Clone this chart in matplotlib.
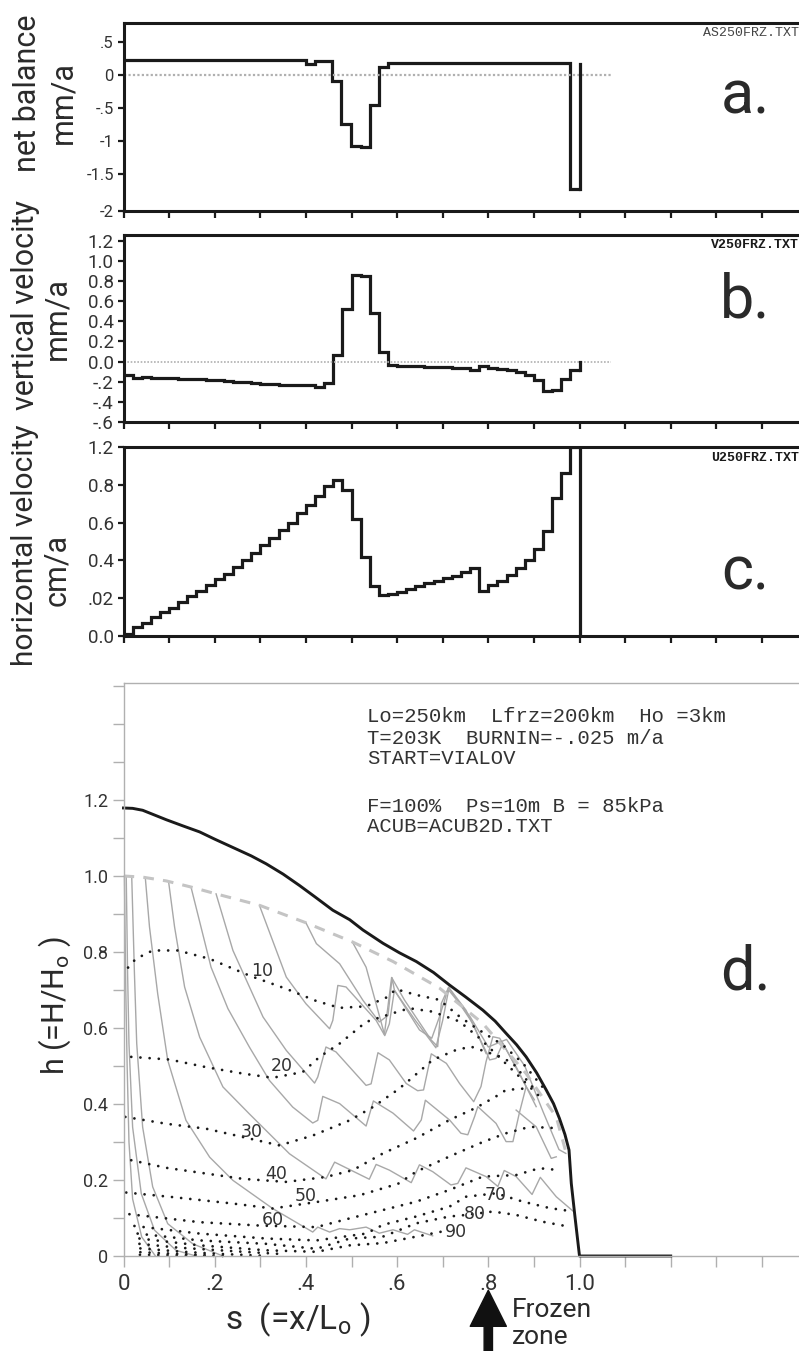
import numpy as np
import matplotlib as mpl
mpl.use('Agg')
import matplotlib.pyplot as plt

W, H = 799, 1351
plt.rcParams['font.family'] = ['Roboto', 'DejaVu Sans']
plt.rcParams['mathtext.default'] = 'regular'

# panel a: net balance, bins of .02
bal_edges = [0, .40, .42, .458, .478, .498, .52, .54, .56, .58, .98, 1.0]
bal_vals = [.22, .17, .21, -.09, -.74, -1.08, -1.09, -.46, .12, .18, -1.73]
bal_end = .17
bal_ticks = [.5, 0, -.5, -1, -1.5, -2.06]
bal_labels = ['.5', '0', '-.5', '-1', '-1.5', '-2']

# panel b: vertical velocity
vert_vals = [-.13, -.16, -.155, -.16, -.16, -.165, -.17, -.17, -.175, -.18,
             -.185, -.19, -.20, -.205, -.215, -.22, -.225, -.235, -.235, -.235,
             -.235, -.255, -.21, .07, .52, .86, .85, .48, .10, -.03,
             -.04, -.04, -.045, -.05, -.05, -.055, -.06, -.065, -.085, -.045,
             -.06, -.07, -.085, -.10, -.13, -.18, -.29, -.285, -.17, -.08]
vert_end = 0.0
vert_ticks = [1.2, 1.0, .8, .6, .4, .2, 0, -.2, -.4, -.6]
vert_labels = ['1.2', '1.0', '0.8', '0.6', '0.4', '0.2', '0.0', '-.2', '-.4', '-.6']

# panel c: horizontal velocity (the axis really is labelled like this)
horiz_vals = [.01, .045, .07, .10, .125, .15, .18, .21, .24, .27,
              .30, .33, .365, .40, .44, .48, .52, .56, .60, .65,
              .695, .74, .795, .825, .77, .62, .42, .265, .215, .22,
              .235, .25, .265, .28, .29, .305, .32, .34, .36, .24,
              .27, .29, .325, .36, .40, .46, .555, .73, .86, 1.0]
horiz_ticks = [1.0, .8, .6, .4, .2, 0]
horiz_labels = ['1.2', '0.8', '0.6', '0.4', '.02', '0.0']

# panel d: surface profiles
surf_s = [0, .02, .042, .094, .13, .167, .2, .24, .28, .313, .35, .386, .42, .459, .496, .525,
          .569, .605, .642, .68, .715, .75, .788, .815, .839, .862, .883, .906, .927, .943,
          .956, .968, .977, .982, .99, 1.0, 1.2]
surf_h = [1.179, 1.178, 1.173, 1.148, 1.132, 1.116, 1.097, 1.075, 1.053, 1.032, 1.005, .975,
          .945, .91, .885, .858, .823, .798, .775, .746, .713, .682, .647, .618, .586, .556,
          .524, .482, .437, .401, .362, .32, .279, .191, .104, 0, 0]
init_s = [0, .042, .094, .148, .203, .298, .4, .503, .591, .693, .788, .883, .949, .971]
init_h = [1.0, .997, .987, .971, .953, .923, .877, .826, .775, .705, .612, .48, .366, .27]

# particle paths (s, h)
path0_s = [.002, .005, .008, .012, .02, .04, .07]
path0_h = [1.0, .7, .5, .3, .15, .05, 0]
path1_s = [.006, .009, .012, .02, .039, .068, .115, .159]
path1_h = [1.0, .743, .559, .339, .164, .068, .015, 0]
path2_s = [.018, .024, .029, .042, .064, .097, .152, .218]
path2_h = [1.0, .743, .559, .339, .182, .085, .032, 0]
path3_s = [.048, .057, .075, .097, .137, .189, .24, .327, .415, .426, .452, .474, .496,
           .532, .561, .591, .623, .638, .678]
path3_h = [.993, .866, .69, .515, .357, .26, .199, .125, .063, .076, .063, .072, .069,
           .076, .06, .069, .057, .069, .053]
path4_s = [.099, .112, .134, .167, .218, .276, .364, .444, .463, .539, .554, .583, .631,
           .649, .678, .718, .733, .751, .795, .821, .835, .861, .896, .914, .949, .987]
path4_h = [.984, .866, .708, .576, .445, .374, .269, .203, .247, .202, .241, .226, .193,
           .24, .222, .187, .191, .232, .209, .183, .225, .209, .162, .207, .156, .117]
path5_s = [.148, .192, .229, .276, .32, .371, .415, .426, .437, .474, .532, .548, .591,
           .636, .653, .662, .715, .74, .755, .77, .777, .817, .839, .854, .868, .883]
path5_h = [.971, .76, .651, .55, .462, .392, .35, .357, .42, .401, .342, .408, .376,
           .329, .358, .41, .358, .323, .319, .367, .393, .349, .301, .301, .376, .446]
path6_s = [.203, .24, .306, .357, .419, .426, .444, .466, .532, .543, .558, .583, .62,
           .645, .658, .675, .708, .737, .768, .784, .795, .81, .825, .861, .905]
path6_h = [.953, .804, .629, .541, .455, .471, .55, .537, .449, .453, .535, .516, .454,
           .435, .437, .532, .507, .454, .406, .446, .511, .577, .573, .498, .393]
path7_s = [.298, .357, .4, .452, .459, .47, .488, .554, .572, .588, .616, .675, .689,
           .697, .713, .751, .795, .803, .817, .832, .883, .901]
path7_h = [.923, .734, .664, .598, .62, .712, .708, .62, .582, .733, .674, .568, .551,
           .665, .707, .647, .538, .516, .52, .56, .446, .411]
path8_s = [.4, .423, .474, .525, .561, .58, .589, .594, .649, .676, .693, .713, .766, .795]
path8_h = [.877, .822, .769, .673, .616, .633, .732, .7, .595, .573, .63, .707, .612, .533]
path9_s = [.503, .532, .573, .583, .594, .64, .685, .70, .713, .76, .80, .84, .88, .92, .955, .97]
path9_h = [.824, .76, .58, .611, .699, .62, .548, .62, .70, .63, .55, .57, .50, .38, .28, .27]
path10_s = [.861, .905, .938, .949]
path10_h = [.384, .34, .257, .261]
paths = [(path0_s, path0_h), (path1_s, path1_h), (path2_s, path2_h), (path3_s, path3_h),
         (path4_s, path4_h), (path5_s, path5_h), (path6_s, path6_h), (path7_s, path7_h),
         (path8_s, path8_h), (path9_s, path9_h), (path10_s, path10_h)]

# isochrones (s, h)
iso10_s = [.01, .027, .064, .119, .189, .276, .357, .423, .474, .532, .576, .598, .642,
           .693, .737, .773, .832, .876, .927]
iso10_h = [.759, .782, .804, .804, .782, .738, .703, .671, .653, .657, .68, .702, .687,
           .674, .63, .6, .555, .507, .433]
iso20_s = [.017, .101, .181, .262, .327, .393, .43, .474, .532, .591, .627, .678, .737,
           .781, .868, .912]
iso20_h = [.524, .517, .497, .48, .469, .484, .524, .559, .616, .639, .652, .643, .617,
           .573, .472, .42]
iso30_s = [.004, .094, .181, .262, .342, .415, .496, .547, .602, .627, .678, .729, .762,
           .825, .854, .90]
iso30_h = [.366, .348, .335, .313, .291, .317, .357, .392, .438, .463, .516, .542, .551,
           .525, .507, .44]
iso40_s = [.017, .094, .181, .262, .357, .444, .503, .569, .642, .715, .773, .817, .839, .883]
iso40_h = [.252, .232, .217, .203, .195, .208, .226, .27, .31, .358, .39, .42, .437, .441]
iso50_s = [.006, .108, .24, .327, .423, .518, .602, .642, .715, .788, .839, .891, .956]
iso50_h = [.167, .155, .138, .125, .142, .16, .19, .222, .262, .30, .323, .34, .336]
iso60_s = [.013, .167, .30, .423, .496, .569, .642, .715, .788, .861, .912, .956]
iso60_h = [.11, .089, .08, .076, .099, .121, .143, .174, .209, .213, .231, .226]
iso70_s = [.024, .167, .313, .423, .532, .569, .642, .715, .751, .817, .876, .935, .987]
iso70_h = [.079, .059, .046, .041, .059, .082, .104, .13, .156, .165, .143, .126, .117]
iso80_s = [.031, .167, .313, .423, .496, .569, .642, .715, .751, .81, .861, .92, .978]
iso80_h = [.059, .041, .032, .019, .046, .051, .086, .104, .108, .117, .108, .09, .077]
iso90_s = [.035, .167, .313, .423, .496, .569, .642, .697]
iso90_h = [.046, .028, .015, .011, .028, .034, .051, .064]
iso100_s = [.035, .12, .25, .35]
iso100_h = [.032, .022, .012, .005]
iso110_s = [.037, .12, .2, .30]
iso110_h = [.02, .012, .006, .001]
iso120_s = [.037, .11, .18]
iso120_h = [.01, .006, .002]
iso130_s = [.036, .12, .22]
iso130_h = [.003, .002, 0]
isos = [(iso10_s, iso10_h), (iso20_s, iso20_h), (iso30_s, iso30_h), (iso40_s, iso40_h),
        (iso50_s, iso50_h), (iso60_s, iso60_h), (iso70_s, iso70_h), (iso80_s, iso80_h),
        (iso90_s, iso90_h), (iso100_s, iso100_h), (iso110_s, iso110_h),
        (iso120_s, iso120_h), (iso130_s, iso130_h)]
iso_names = ['10', '20', '30', '40', '50', '60', '70', '80', '90']
iso_name_s = [.305, .346, .282, .335, .40, .327, .817, .77, .73]
iso_name_h = [.75, .50, .326, .215, .158, .096, .16, .11, .064]

notes = ['Lo=250km  Lfrz=200km  Ho =3km', 'T=203K  BURNIN=-.025 m/a', 'START=VIALOV',
         'F=100%  Ps=10m B = 85kPa', 'ACUB=ACUB2D.TXT']
d_yticks = [0, .2, .4, .6, .8, 1.0, 1.2]
d_ylabels = ['0', '0.2', '0.4', '0.6', '0.8', '1.0', '1.2']
d_xticks = [0, .2, .4, .6, .8, 1.0]
d_xlabels = ['0', '.2', '.4', '.6', '.8', '1.0']

LEFT = 123.5
XMAX = (W - LEFT) / 456.0
DARK = '#1a1a1a'
GREY = '#b0b0b0'
LW = 2.3

fig = plt.figure(figsize=(W / 100, H / 100), dpi=100)


def add_panel(top, bottom):
    return fig.add_axes([LEFT / W, 1 - bottom / H, (W - LEFT) / W, (bottom - top) / H])


def ftext(x, y, s, **kw):
    kw.setdefault('ha', 'center')
    kw.setdefault('va', 'center')
    kw.setdefault('color', '#2a2a2a')
    fig.text(x / W, 1 - y / H, s, **kw)


def style_panel(ax, yticks, ylabels, ysize):
    ax.set_xlim(0, XMAX)
    ax.spines['right'].set_visible(False)
    for sp in ['left', 'top', 'bottom']:
        ax.spines[sp].set_linewidth(2.2)
        ax.spines[sp].set_color(DARK)
    ax.set_xticks(np.arange(0, 1.45, .1))
    ax.set_xticklabels([])
    ax.set_yticks(yticks)
    ax.set_yticklabels(ylabels, fontsize=ysize, color='#333333')
    ax.tick_params(axis='x', length=5, width=1.6, color=DARK, direction='out')
    ax.tick_params(axis='y', length=4, width=1.6, color=DARK, direction='out', pad=3)


bins = np.arange(51) * .02

# a
ax_a = add_panel(23, 211)
ax_a.set_ylim(-2.06, 52 / 66)
ax_a.plot([0, 1.07], [0, 0], color=GREY, lw=1.6, ls=(0, (1, 1)))
ax_a.stairs(bal_vals, bal_edges, baseline=None, color=DARK, lw=LW)
ax_a.plot([bal_edges[-1], bal_edges[-1]], [bal_vals[-1], bal_end], color=DARK, lw=LW)
style_panel(ax_a, bal_ticks, bal_labels, 12)

# b
ax_b = add_panel(235, 422)
ax_b.set_ylim(-.6, 1.257)
ax_b.plot([0, 1.07], [0, 0], color=GREY, lw=1.2, ls=(0, (1, 1)))
ax_b.stairs(vert_vals, bins, baseline=None, color=DARK, lw=LW)
ax_b.plot([1, 1], [vert_vals[-1], vert_end], color=DARK, lw=LW)
style_panel(ax_b, vert_ticks, vert_labels, 13.5)

# c
ax_c = add_panel(447, 636)
ax_c.set_ylim(0, 1.0)
ax_c.stairs(horiz_vals, bins, baseline=None, color=DARK, lw=LW)
ax_c.axvline(1.0, color=DARK, lw=LW)
style_panel(ax_c, horiz_ticks, horiz_labels, 13.5)

# d
ax_d = add_panel(683, 1256)
ax_d.set_xlim(0, XMAX)
ax_d.set_ylim(0, (1256 - 683) / 380)
for s, h in paths:
    ax_d.plot(s, h, color='#a8a8a8', lw=1.0, clip_on=False)
ax_d.plot(init_s, init_h, color='#c4c4c4', lw=2.2, ls=(0, (3.5, 3)))
for s, h in isos:
    ax_d.plot(s, h, color=DARK, lw=2.0, ls=(0, (.01, 3.3)), dash_capstyle='round', clip_on=False)
ax_d.plot(surf_s, surf_h, color=DARK, lw=2.1, clip_on=False)
for name, s, h in zip(iso_names, iso_name_s, iso_name_h):
    ax_d.text(s, h, name, ha='center', va='center', fontsize=12.5, color='#333333',
              family='DejaVu Sans')
ax_d.spines['right'].set_visible(False)
for sp in ['left', 'top', 'bottom']:
    ax_d.spines[sp].set_color(GREY)
    ax_d.spines[sp].set_linewidth(1.0)
ax_d.set_yticks(np.arange(0, 1.55, .1), minor=True)
ax_d.set_xticks(np.arange(0, 1.45, .1), minor=True)
ax_d.set_yticks(d_yticks)
ax_d.set_yticklabels(d_ylabels, fontsize=13, color='#333333')
ax_d.set_xticks(d_xticks)
ax_d.set_xticklabels(d_xlabels, fontsize=16, color='#333333')
ax_d.tick_params(axis='both', which='both', length=8, width=1.0, color=GREY)
ax_d.tick_params(axis='x', which='major', pad=5)
ax_d.tick_params(axis='y', which='major', pad=3)
ax_d.annotate('', xy=(.8, -.09), xytext=(.8, -.26), annotation_clip=False,
              arrowprops=dict(width=6, headwidth=26, headlength=26, color='#111111', shrink=0))

for y, line in zip([717, 738, 759, 807, 827], notes):
    ftext(367, y, line, ha='left', family='Liberation Mono', fontsize=14.9, color='#333333')
ftext(703, 33, 'AS250FRZ.TXT', ha='left', family='Liberation Mono', fontsize=9.5, color='#444444')
ftext(711, 245, 'V250FRZ.TXT', ha='left', family='Liberation Mono', fontsize=9.5, weight='bold',
      color=DARK)
ftext(711, 458, 'U250FRZ.TXT', ha='left', family='Liberation Mono', fontsize=9.5, weight='bold',
      color=DARK)

ftext(745, 97, 'a.', fontsize=44)
ftext(745, 300, 'b.', fontsize=44)
ftext(745, 573, 'c.', fontsize=44)
ftext(745, 972, 'd.', fontsize=44)

ftext(28, 93, 'net balance', rotation=90, fontsize=22)
ftext(63, 102, 'mm/a', rotation=90, fontsize=22)
ftext(26, 305, 'vertical velocity', rotation=90, fontsize=22)
ftext(57, 318, 'mm/a', rotation=90, fontsize=22)
ftext(25, 545, 'horizontal velocity', rotation=90, fontsize=21.5)
ftext(57, 570, 'cm/a', rotation=90, fontsize=22)
ftext(55, 1005, 'h (=H/H$_{o}$ )', rotation=90, fontsize=22)
ftext(298, 1320, 's  (=x/L$_{o}$ )', fontsize=24)
ftext(512, 1310, 'Frozen', ha='left', fontsize=19)
ftext(512, 1337, 'zone', ha='left', fontsize=19)

fig.savefig('out.png', dpi=100)
